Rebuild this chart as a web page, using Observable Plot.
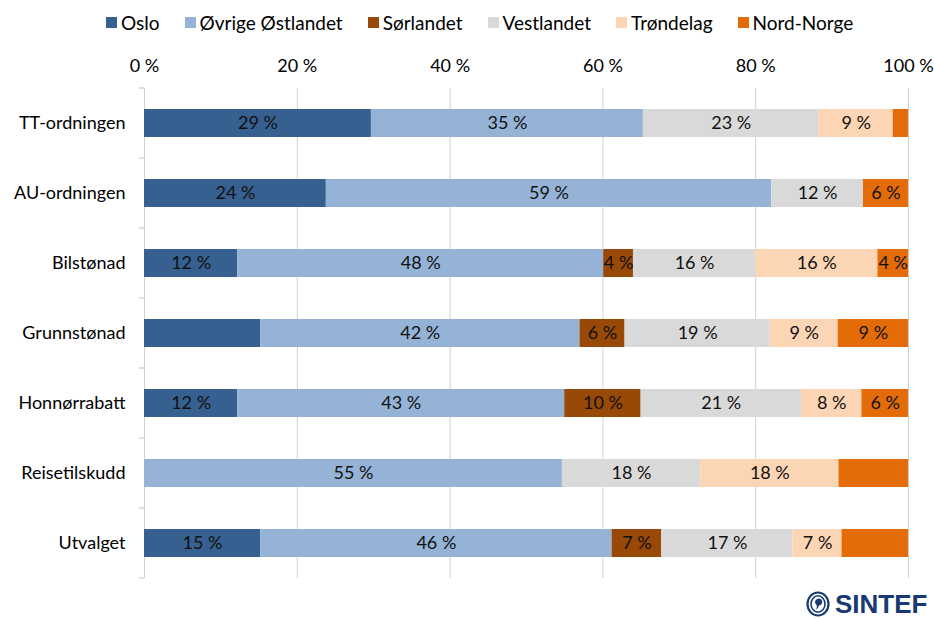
<!DOCTYPE html>
<html><head><meta charset="utf-8">
<script src="https://cdn.jsdelivr.net/npm/d3@7"></script>
<script src="https://cdn.jsdelivr.net/npm/@observablehq/plot@0.6"></script>
<style>
body{margin:0;background:#fff;font-family:Lato,sans-serif;}
#wrap{position:relative;width:934px;height:619px;overflow:hidden;background:#fff;}
#legend{height:40px;display:flex;align-items:center;padding-left:106px;padding-top:4px;box-sizing:border-box;font-size:19px;color:#000;}
.item{display:flex;align-items:center;margin-right:25px;white-space:nowrap;}
.sw{width:11px;height:11px;margin-right:4px;flex:none;}
#logo{position:absolute;left:806px;top:591px;display:flex;align-items:center;}
#logo span{font-family:"Liberation Sans",Arial,sans-serif;font-weight:bold;font-size:26px;color:#173a72;margin-left:5px;line-height:26px;}
</style></head>
<body>
<div id="wrap">
  <div id="legend"></div>
  <div id="chart"></div>
  <div id="logo"><svg width="24" height="26" viewBox="0 0 24 26"><ellipse cx="12" cy="13" rx="10.5" ry="11.5" fill="none" stroke="#173a72" stroke-width="2.2"/><ellipse cx="12" cy="13" rx="7" ry="8.2" fill="none" stroke="#173a72" stroke-width="1.6"/><path d="M11 8 a3.5 3.5 0 1 1 2 6.5 q-0.5 3 -3.5 4.5 q1.8-2.5 1.3-4.8 a3.5 3.5 0 0 1 0.2-6.2z" fill="#173a72"/></svg><span>SINTEF</span></div>
</div>
<script>
const categories = ["TT-ordningen","AU-ordningen","Bilstønad","Grunnstønad","Honnørrabatt","Reisetilskudd","Utvalget"];
const regions = ["Oslo","Øvrige Østlandet","Sørlandet","Vestlandet","Trøndelag","Nord-Norge"];
const colors = ["#36608f","#95b3d7","#984807","#d9d9d9","#fcd5b5","#e36c09"];
const xTicks = [0,20,40,60,80,100];

// share of users (%) per region, one array per series, in category order
const oslo       = [29.7, 23.8, 12.2, 15.2, 12.2, 0,    15.2];
const ovrige     = [35.6, 58.3, 47.9, 41.8, 42.8, 54.7, 46.0];
const sorlandet  = [0,    0,    3.9,  5.9,  10.0, 0,    6.5];
const vestlandet = [23.0, 12.0, 16.0, 19.0, 21.0, 18.1, 17.2];
const trondelag  = [9.7,  0,    16.0, 8.9,  7.9,  18.1, 6.4];
const nordNorge  = [2.0,  5.9,  4.0,  9.2,  6.1,  9.1,  8.7];

// printed data labels (null = no label shown)
const osloLab       = [29, 24, 12, null, 12, null, 15];
const ovrigeLab     = [35, 59, 48, 42, 43, 55, 46];
const sorlandetLab  = [null, null, 4, 6, 10, null, 7];
const vestlandetLab = [23, 12, 16, 19, 21, 18, 17];
const trondelagLab  = [9, null, 16, 9, 8, 18, 7];
const nordNorgeLab  = [null, 6, 4, 9, 6, null, null];

const series = [oslo, ovrige, sorlandet, vestlandet, trondelag, nordNorge];
const labels = [osloLab, ovrigeLab, sorlandetLab, vestlandetLab, trondelagLab, nordNorgeLab];

const data = [];
categories.forEach((c, i) => regions.forEach((r, j) => {
  data.push({category: c, region: r, value: series[j][i], label: labels[j][i]});
}));
const shown = data.filter(d => d.value > 0);

// legend
const leg = document.getElementById("legend");
regions.forEach((r, j) => {
  const it = document.createElement("div"); it.className = "item";
  const sw = document.createElement("div"); sw.className = "sw"; sw.style.background = colors[j];
  const tx = document.createElement("span"); tx.textContent = r;
  it.appendChild(sw); it.appendChild(tx); leg.appendChild(it);
});

function bandTicks(index, scales, values, dims) {
  const ns = "http://www.w3.org/2000/svg";
  const g = document.createElementNS(ns, "g");
  const top = dims.marginTop, bottom = dims.height - dims.marginBottom;
  const step = (bottom - top) / categories.length;
  const x0 = scales.x(0);
  for (let i = 0; i <= categories.length; i++) {
    const l = document.createElementNS(ns, "line");
    l.setAttribute("x1", x0 - 5); l.setAttribute("x2", x0);
    l.setAttribute("y1", top + i * step); l.setAttribute("y2", top + i * step);
    l.setAttribute("stroke", "#bfbfbf");
    g.appendChild(l);
  }
  return g;
}

const chart = Plot.plot({
  width: 934, height: 579,
  marginTop: 48, marginBottom: 41, marginLeft: 144, marginRight: 26,
  style: {fontFamily: "Lato, sans-serif", fontSize: "18px", color: "#000", background: "#fff"},
  x: {domain: [0, 100], axis: null, label: null},
  y: {domain: categories, paddingInner: 0.6, paddingOuter: 0.3, axis: null, label: null},
  color: {domain: regions, range: colors},
  marks: [
    Plot.ruleX(xTicks, {stroke: "#d0d0d0", strokeWidth: 1}),
    Plot.barX(shown, Plot.stackX({x: "value", y: "category", z: "region", fill: "region", order: regions})),
    Plot.text(shown, Plot.stackX({x: "value", y: "category", z: "region", order: regions,
      text: d => d.label == null ? "" : d.label + " %", fill: "#111", fontSize: 18})),
    Plot.axisX({anchor: "top", ticks: xTicks, tickFormat: d => d + " %", tickSize: 0, tickPadding: 17, fontSize: 18, label: null}),
    Plot.axisY({tickSize: 0, tickPadding: 19, fontSize: 18, label: null}),
    bandTicks
  ]
});
document.getElementById("chart").appendChild(chart);
</script>
</body></html>
